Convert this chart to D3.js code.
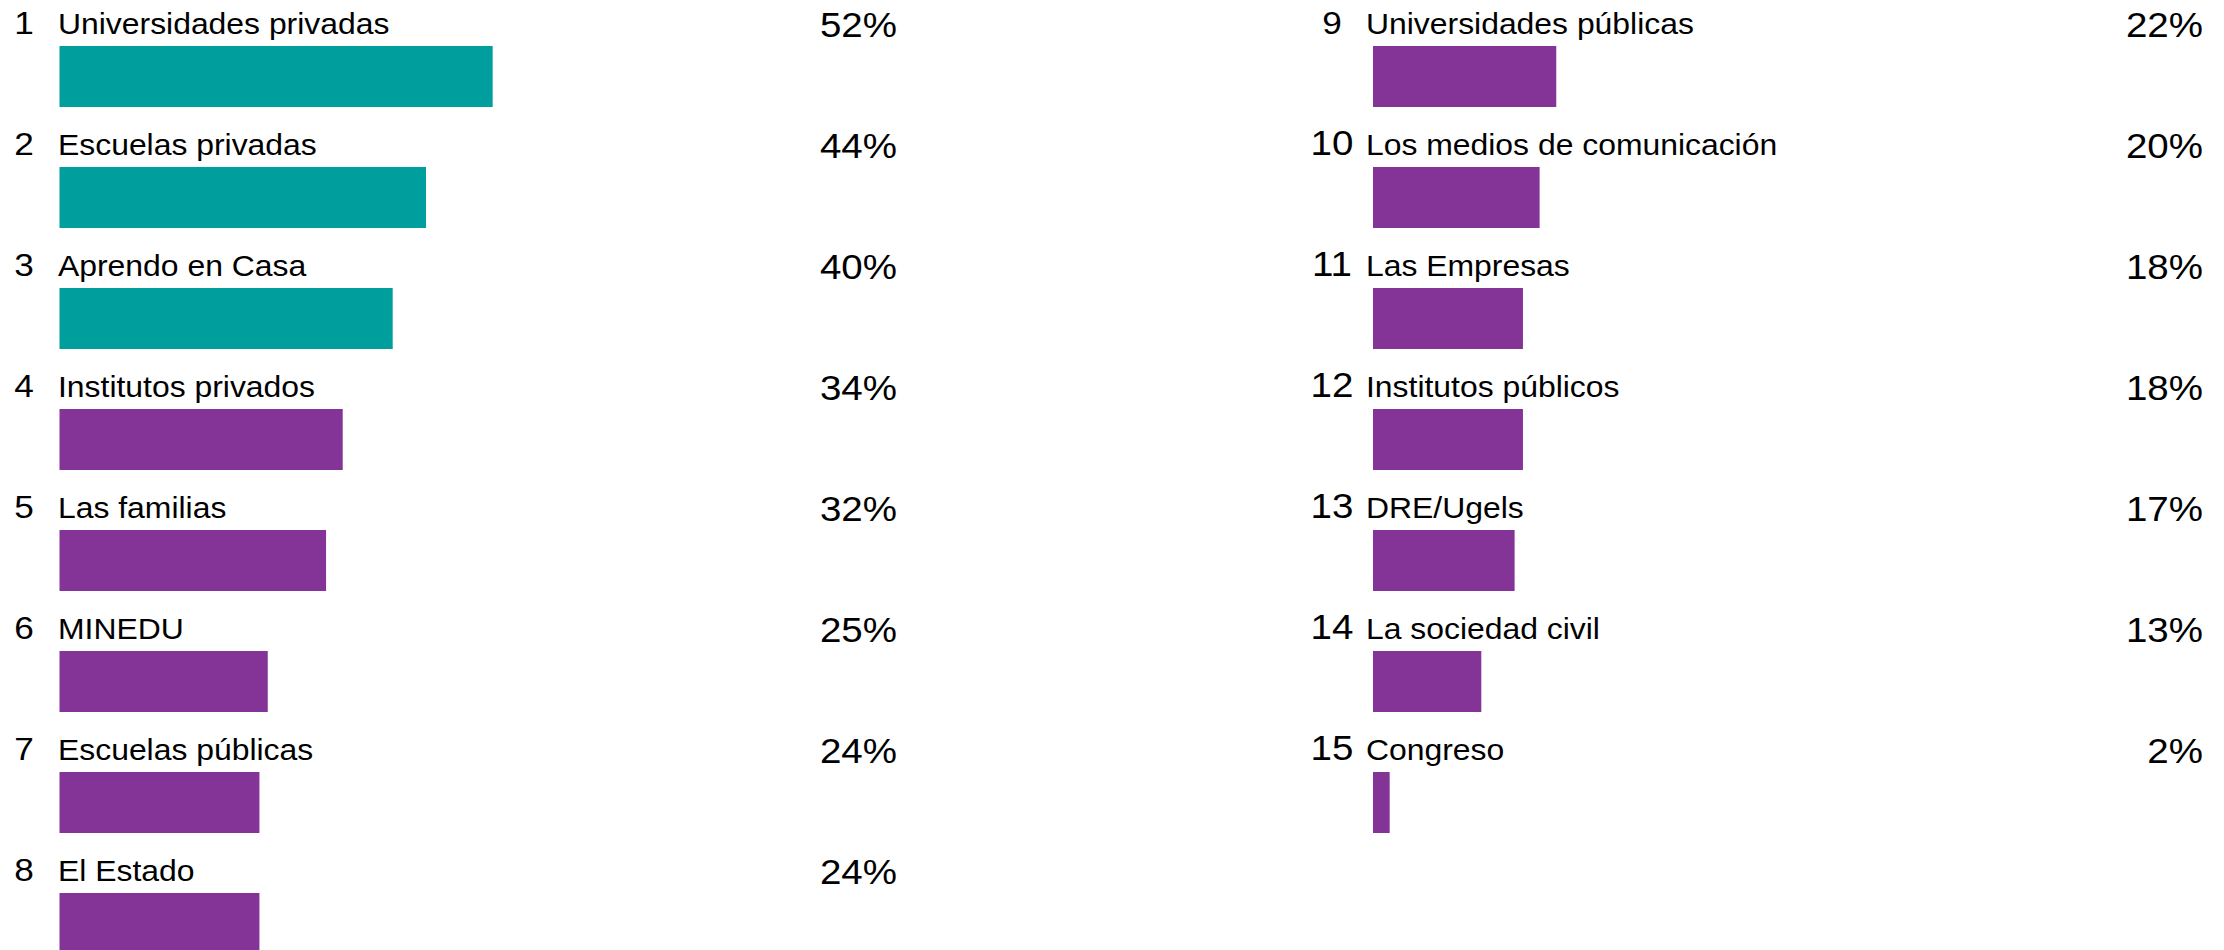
<!doctype html>
<html>
  <head>
    <meta charset="utf-8">
    <script src="https://cdn.jsdelivr.net/npm/d3@7"></script>
    <style>
    body {
      margin: 0;
      background: #ffffff;
    }
    .chart {
      font-family: 'Liberation Sans', Arial, sans-serif;
      fill: #000000;
    }
    </style>
  </head>
  <body>

    <svg class="chart"></svg>

  <script>

    // ranking data
    const ranks = [1, 2, 3, 4, 5, 6, 7, 8, 9, 10, 11, 12, 13, 14, 15]

    const labels = ["Universidades privadas", "Escuelas privadas", "Aprendo en Casa",
                    "Institutos privados", "Las familias", "MINEDU", "Escuelas públicas",
                    "El Estado", "Universidades públicas", "Los medios de comunicación",
                    "Las Empresas", "Institutos públicos", "DRE/Ugels", "La sociedad civil",
                    "Congreso"]

    const values = [52, 44, 40, 34, 32, 25, 24, 24, 22, 20, 18, 18, 17, 13, 2]

    const teal = "#009e9d",
        purple = "#843396"

    const width = 2224,
        height = 950,
        rowHeight = 121

    const rows = ranks.map((r, i) => ({
      rank: r,
      label: labels[i],
      value: values[i],
      col: i < 8 ? 0 : 1,
      pos: i < 8 ? i : i - 8,
      color: i < 3 ? teal : purple
    }))

    // two columns of eight rows, same bar scale
    const columns = [
      { barX: 59.5, numX: 24,   labelX: 58,   pctX: 897 },
      { barX: 1373, numX: 1332, labelX: 1366, pctX: 2203 }
    ]

    const xScale = d3.scaleLinear()
                     .domain([0, 100])
                     .range([0, 833])

    const yScale = d3.scaleBand()
                     .domain(d3.range(8))
                     .range([0, 8 * rowHeight])

    const stretch = " scale(1.1,1)"

    let chart = d3.select(".chart")
                  .attr("width", width)
                  .attr("height", height)

    let row = chart.selectAll(".row")
      .data(rows)
      .enter().append("g")
        .attr("class", "row")
        .attr("transform", (d) => "translate(0," + yScale(d.pos) + ")")

    row.append("rect")
      .attr("x", (d) => columns[d.col].barX)
      .attr("y", 46)
      .attr("width", (d) => xScale(d.value))
      .attr("height", 61)
      .attr("fill", (d) => d.color)

    row.append("text")
      .attr("transform", (d) => "translate(" + columns[d.col].numX + ",34)" + stretch)
      .attr("text-anchor", "middle")
      .style("font-size", (d) => (d.rank > 9 ? 35 : 32) + "px")
      .text((d) => d.rank)

    row.append("text")
      .attr("transform", (d) => "translate(" + columns[d.col].labelX + ",34)" + stretch)
      .style("font-size", "29px")
      .text((d) => d.label)

    row.append("text")
      .attr("transform", (d) => "translate(" + columns[d.col].pctX + ",37)" + stretch)
      .attr("text-anchor", "end")
      .style("font-size", "35px")
      .text((d) => d.value + "%")

  </script>

  </body>
</html>
